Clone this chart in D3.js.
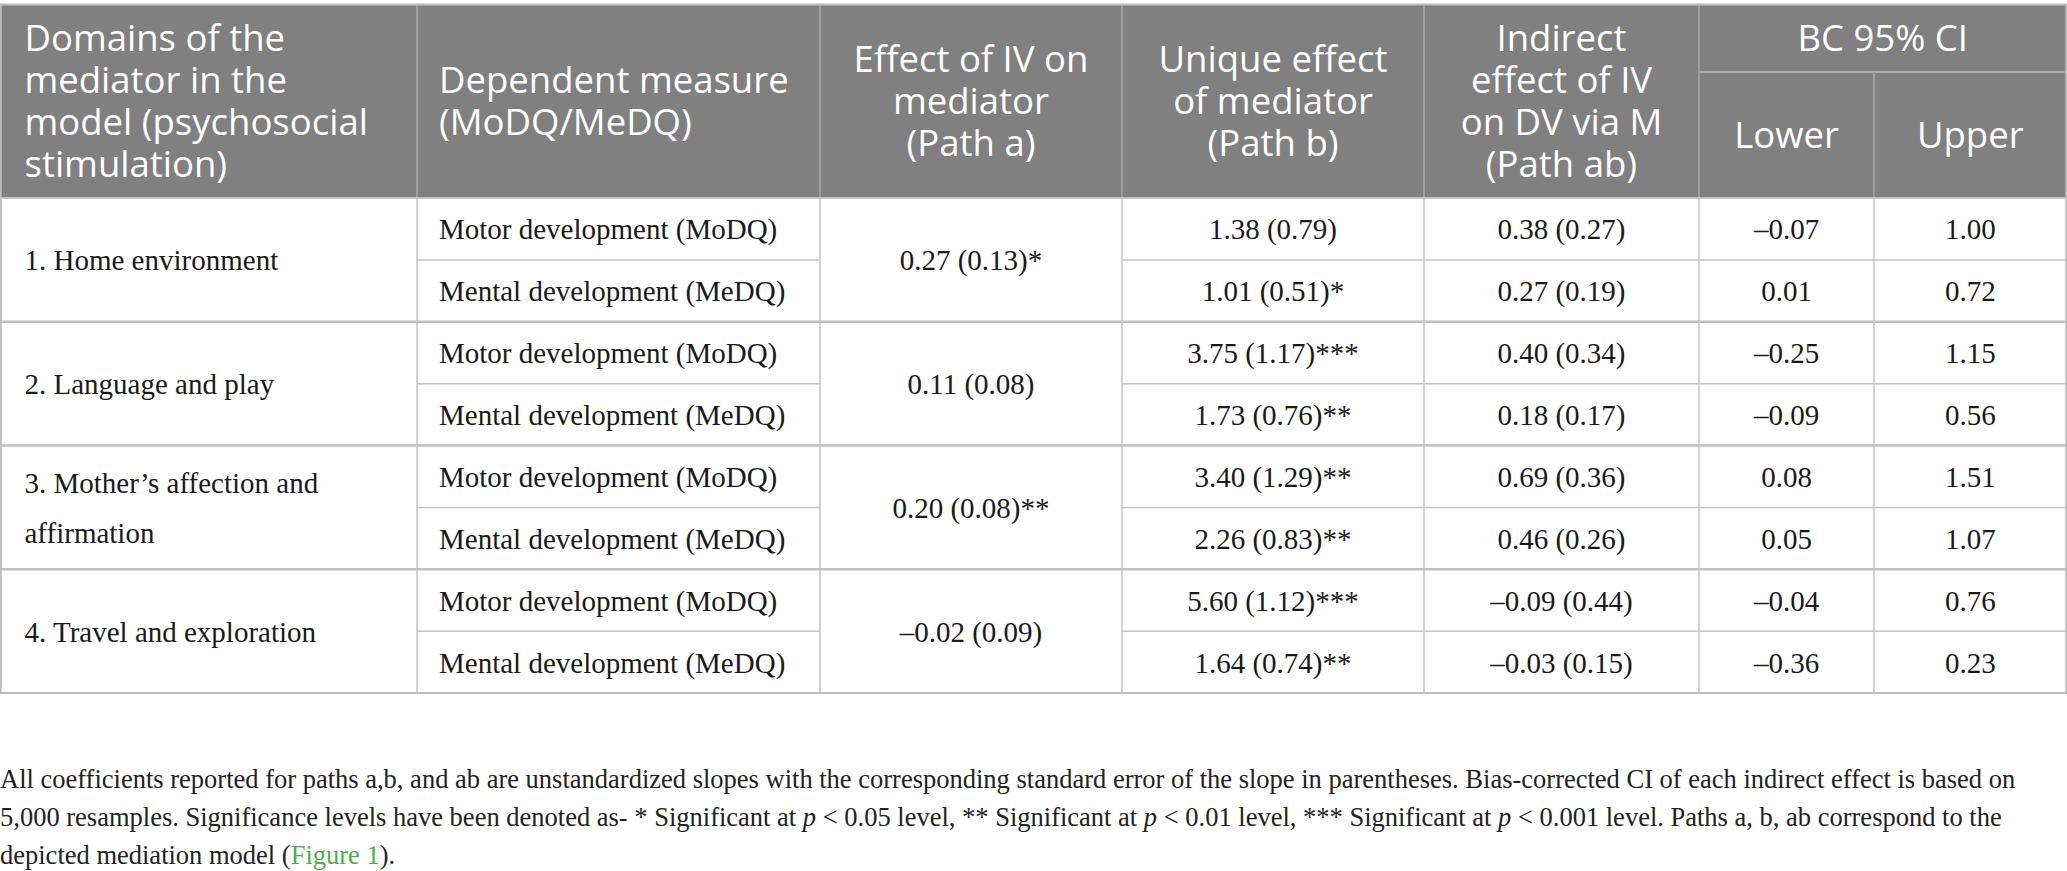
<!DOCTYPE html>
<html><head><meta charset="utf-8">
<script src="https://cdn.jsdelivr.net/npm/d3@7/dist/d3.min.js"></script>
<style>
html,body{margin:0;padding:0;background:#fff;}
svg{display:block;}
</style></head>
<body><svg id="c" width="2067" height="871"></svg>
<script>
// ---- data ----
const headers = [
  ["Domains of the", "mediator in the", "model (psychosocial", "stimulation)"],
  ["Dependent measure", "(MoDQ/MeDQ)"],
  ["Effect of IV on", "mediator", "(Path a)"],
  ["Unique effect", "of mediator", "(Path b)"],
  ["Indirect", "effect of IV", "on DV via M", "(Path ab)"]
];
const ciHeader = "BC 95% CI";
const ciSub = ["Lower", "Upper"];
const domains = [
  ["1. Home environment"],
  ["2. Language and play"],
  ["3. Mother’s affection and", "affirmation"],
  ["4. Travel and exploration"]
];
const measures = ["Motor development (MoDQ)", "Mental development (MeDQ)"];
const pathA = ["0.27 (0.13)*", "0.11 (0.08)", "0.20 (0.08)**", "–0.02 (0.09)"];
const pathB = ["1.38 (0.79)", "1.01 (0.51)*", "3.75 (1.17)***", "1.73 (0.76)**", "3.40 (1.29)**", "2.26 (0.83)**", "5.60 (1.12)***", "1.64 (0.74)**"];
const pathAB = ["0.38 (0.27)", "0.27 (0.19)", "0.40 (0.34)", "0.18 (0.17)", "0.69 (0.36)", "0.46 (0.26)", "–0.09 (0.44)", "–0.03 (0.15)"];
const lower = ["–0.07", "0.01", "–0.25", "–0.09", "0.08", "0.05", "–0.04", "–0.36"];
const upper = ["1.00", "0.72", "1.15", "0.56", "1.51", "1.07", "0.76", "0.23"];
const footnote = [
  [{t:"All coefficients reported for paths a,b, and ab are unstandardized slopes with the corresponding standard error of the slope in parentheses. Bias-corrected CI of each indirect effect is based on"}],
  [{t:"5,000 resamples. Significance levels have been denoted as- * Significant at "},{t:"p",i:true},{t:" < 0.05 level, ** Significant at "},{t:"p",i:true},{t:" < 0.01 level, *** Significant at "},{t:"p",i:true},{t:" < 0.001 level. Paths a, b, ab correspond to the"}],
  [{t:"depicted mediation model ("},{t:"Figure 1",g:true},{t:")."}]
];

// ---- layout ----
const W = 2067;
const colEdges = [0.5, 417, 820, 1122, 1424, 1699, 1874, 2066.5];
const topY = 4.5, headBot = 198, ciMid = 72, tableBot = 693;
const nRows = pathB.length;
const y = d3.scaleLinear().domain([0, nRows]).range([headBot, tableBot]);
const col = i => colEdges[i];
const colMid = i => (colEdges[i] + colEdges[i + 1]) / 2;

const svg = d3.select("#c");
const sansF = "'Open Sans', sans-serif";
const serifF = "'Liberation Serif', 'Times New Roman', serif";
const headSize = 36.5, headLH = 42, bodySize = 29;

// header background
svg.append("rect").attr("x", 0).attr("y", topY).attr("width", W).attr("height", headBot - topY).attr("fill", "#808080");

// header text
function headBlock(lines, x, cy, anchor) {
  const t = svg.append("text").attr("fill", "#fff").attr("font-family", sansF).attr("font-size", headSize)
    .attr("text-anchor", anchor);
  const n = lines.length;
  lines.forEach((l, k) => {
    t.append("tspan").attr("x", x).attr("y", cy + (k - (n - 1) / 2) * headLH + headSize * 0.35).text(l);
  });
}
const headMid = (topY + headBot) / 2;
headBlock(headers[0], col(0) + 24, headMid, "start");
headBlock(headers[1], col(1) + 22, headMid, "start");
headBlock(headers[2], colMid(2), headMid, "middle");
headBlock(headers[3], colMid(3), headMid, "middle");
headBlock(headers[4], colMid(4), headMid, "middle");
headBlock([ciHeader], (col(5) + col(7)) / 2, (topY + ciMid) / 2, "middle");
headBlock([ciSub[0]], colMid(5), (ciMid + headBot) / 2, "middle");
headBlock([ciSub[1]], colMid(6), (ciMid + headBot) / 2, "middle");

// header lines
const hl = "#a9a9a9";
svg.append("line").attr("x1", col(5)).attr("x2", W).attr("y1", ciMid).attr("y2", ciMid).attr("stroke", hl).attr("stroke-width", 2);
[1, 2, 3, 4, 5].forEach(i => {
  svg.append("line").attr("x1", col(i)).attr("x2", col(i)).attr("y1", topY).attr("y2", headBot).attr("stroke", hl).attr("stroke-width", 1.5);
});
svg.append("line").attr("x1", col(6)).attr("x2", col(6)).attr("y1", ciMid).attr("y2", headBot).attr("stroke", hl).attr("stroke-width", 1.5);

// body grid
const bl = "#c4c4c4";
d3.range(1, nRows).forEach(r => {
  const group = r % 2 === 0;
  svg.append("line").attr("x1", group ? 0 : col(1)).attr("x2", group ? W : col(2)).attr("y1", y(r)).attr("y2", y(r))
    .attr("stroke", group ? "#c0c0c0" : bl).attr("stroke-width", group ? 2.5 : 1.5);
  if (!group) {
    svg.append("line").attr("x1", col(3)).attr("x2", W).attr("y1", y(r)).attr("y2", y(r)).attr("stroke", bl).attr("stroke-width", 1.5);
  }
});
[1, 2, 3, 4, 5, 6].forEach(i => {
  svg.append("line").attr("x1", col(i)).attr("x2", col(i)).attr("y1", headBot).attr("y2", tableBot).attr("stroke", bl).attr("stroke-width", 1.5);
});
// outer border
svg.append("rect").attr("x", 0.75).attr("y", topY).attr("width", W - 1.5).attr("height", tableBot - topY)
  .attr("fill", "none").attr("stroke", "#bdbdbd").attr("stroke-width", 2);
svg.append("line").attr("x1", 0).attr("x2", W).attr("y1", headBot).attr("y2", headBot).attr("stroke", "#c4c4c4").attr("stroke-width", 2);

// body text
const txtColor = "#1a1a1a";
function bodyText(str, x, cy, anchor) {
  svg.append("text").attr("x", x).attr("y", cy + bodySize * 0.36).attr("font-family", serifF).attr("font-size", bodySize)
    .attr("fill", txtColor).attr("text-anchor", anchor).text(str);
}
domains.forEach((d, g) => {
  const cy = y(g * 2 + 1);
  const n = d.length, lh = 50;
  d.forEach((l, k) => bodyText(l, col(0) + 24, cy + (k - (n - 1) / 2) * lh, "start"));
  bodyText(pathA[g], colMid(2), cy, "middle");
});
d3.range(nRows).forEach(r => {
  const cy = (y(r) + y(r + 1)) / 2;
  bodyText(measures[r % 2], col(1) + 22, cy, "start");
  bodyText(pathB[r], colMid(3), cy, "middle");
  bodyText(pathAB[r], colMid(4), cy, "middle");
  bodyText(lower[r], colMid(5), cy, "middle");
  bodyText(upper[r], colMid(6), cy, "middle");
});

// footnote
const fnSize = 26.5, fnBase = [788, 826, 864];
footnote.forEach((parts, k) => {
  const t = svg.append("text").attr("x", 0).attr("y", fnBase[k]).attr("font-family", serifF).attr("font-size", fnSize).attr("fill", "#222");
  parts.forEach(p => {
    const s = t.append("tspan").text(p.t);
    if (p.i) s.attr("font-style", "italic");
    if (p.g) s.attr("fill", "#4cae4c");
  });
});
</script></body></html>
